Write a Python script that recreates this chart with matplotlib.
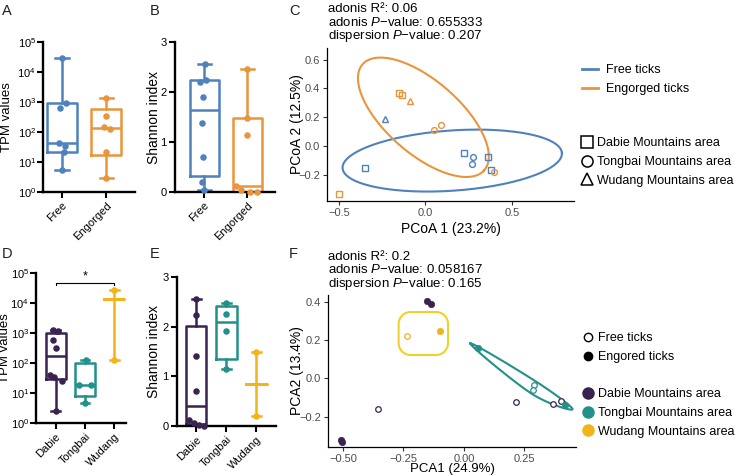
import numpy as np
import matplotlib.pyplot as plt
from matplotlib.lines import Line2D

plt.rcParams['font.family'] = ['Liberation Sans', 'DejaVu Sans']
plt.rcParams['mathtext.fontset'] = 'custom'
plt.rcParams['mathtext.rm'] = 'Liberation Sans'
plt.rcParams['mathtext.it'] = 'Liberation Sans:italic'

BLUE = '#4F81BD'
ORANGE = '#E9953B'
DABIE = '#3B2351'
TONGBAI = '#23908A'
WUDANG = '#F2B31B'
WUDANG_HULL = '#EFD12C'
INK = '#231F20'

# ---- data ----
state_cats = ['Free', 'Engorged']
area_cats = ['Dabie', 'Tongbai', 'Wudang']

# A: TPM by feeding state
free_tpm = [29500, 900, 620, 43, 34, 21, 5.6]
free_tpm_jit = [0.0, 0.08, -0.05, -0.06, 0.07, 0.05, 0.0]
eng_tpm = [1350, 340, 150, 130, 21, 2.9]
eng_tpm_jit = [0.0, 0.0, -0.06, 0.08, 0.0, 0.0]

# B: Shannon by feeding state
free_shannon = [2.57, 2.25, 2.21, 1.9, 1.38, 0.7, 0.2, 0.05]
free_shannon_jit = [0.02, 0.04, -0.1, -0.02, -0.04, -0.02, -0.04, 0.0]
eng_shannon = [2.45, 1.48, 1.15, 0.12, 0.05, 0.0, 0.0]
eng_shannon_jit = [0.0, 0.0, 0.0, -0.25, -0.14, 0.06, 0.24]

# D: TPM by area
dabie_tpm = [1300, 1150, 590, 310, 40, 35, 26, 2.5]
dabie_tpm_jit = [-0.1, 0.08, -0.1, 0.0, -0.2, -0.05, 0.2, 0.0]
tongbai_tpm = [125, 18.5, 18, 4.7]
tongbai_tpm_jit = [0.05, 0.2, -0.2, 0.0]
wudang_tpm = [27500, 125]
wudang_tpm_jit = [0.0, 0.0]

# E: Shannon by area
dabie_shannon = [2.56, 2.23, 1.4, 0.7, 0.12, 0.06, 0.03, 0.01]
dabie_shannon_jit = [0.0, 0.0, 0.0, 0.0, -0.24, -0.08, 0.09, 0.25]
tongbai_shannon = [2.48, 2.26, 1.91, 1.15]
tongbai_shannon_jit = [0.0, 0.0, 0.0, 0.0]
wudang_shannon = [1.5, 0.2]
wudang_shannon_jit = [0.0, 0.0]

# C: PCoA
free_pcoa_x = [-0.35, -0.235, 0.222, 0.277, 0.268, 0.364, 0.378]
free_pcoa_y = [-0.148, 0.19, -0.045, -0.074, -0.125, -0.078, -0.163]
free_pcoa_area = ['Dabie', 'Wudang', 'Dabie', 'Tongbai', 'Tongbai', 'Dabie', 'Dabie']
eng_pcoa_x = [-0.503, -0.156, -0.137, -0.088, 0.048, 0.09, 0.395]
eng_pcoa_y = [-0.33, 0.37, 0.354, 0.31, 0.112, 0.15, -0.177]
eng_pcoa_area = ['Dabie', 'Dabie', 'Dabie', 'Wudang', 'Tongbai', 'Tongbai', 'Tongbai']
# stat ellipses: centre, semi-axis u, semi-axis v
free_ellipse = [0.155, -0.10, 0.635, 0.053, -0.013, 0.208]
eng_ellipse = [-0.012, 0.20, 0.35, -0.37, 0.145, 0.185]
pcoa_stats = ['0.06', '0.655333', '0.207']

# F: PCA
pca_x = [-0.357, 0.215, 0.366, 0.40, -0.154, -0.138, -0.51, -0.505,
         0.29, 0.287, 0.056, 0.417, -0.237, -0.099]
pca_y = [-0.162, -0.125, -0.134, -0.117, 0.403, 0.386, -0.322, -0.33,
         -0.035, -0.061, 0.156, -0.139, 0.221, 0.247]
pca_area = ['Dabie'] * 8 + ['Tongbai'] * 4 + ['Wudang'] * 2
pca_state = ['Free'] * 4 + ['Engorged'] * 4 + ['Free', 'Free', 'Engorged', 'Engorged', 'Free', 'Engorged']
pca_stats = ['0.2', '0.058167', '0.165']

area_colors = {'Dabie': DABIE, 'Tongbai': TONGBAI, 'Wudang': WUDANG}
area_markers = {'Dabie': 's', 'Tongbai': 'o', 'Wudang': '^'}
area_labels = ['Dabie Mountains area', 'Tongbai Mountains area', 'Wudang Mountains area']

W, H = 738, 476
fig = plt.figure(figsize=(W / 100, H / 100), dpi=100)


def px_axes(l, t, r, b):
    return fig.add_axes([l / W, 1 - b / H, (r - l) / W, (b - t) / H])


def box_stats(vals):
    v = np.asarray(vals, float)
    med = np.median(v)
    if len(v) < 3:
        q1 = q3 = med
    else:
        q1, q3 = np.percentile(v, [25, 75], method='weibull')
    return dict(med=med, q1=q1, q3=q3, whislo=v.min(), whishi=v.max(), fliers=[])


def prism_boxes(ax, groups, jitters, colors):
    for i, (vals, jit, c) in enumerate(zip(groups, jitters, colors)):
        lp = dict(color=c, lw=1.8)
        ax.bxp([box_stats(vals)], positions=[i], widths=0.68, capwidths=0.3,
               showfliers=False, boxprops=lp, medianprops=lp, whiskerprops=lp,
               capprops=lp, manage_ticks=False)
        ax.scatter(i + np.asarray(jit), vals, s=22, color=c, lw=0, zorder=3, clip_on=False)


def prism_style(ax, cats, xlim, log, label_x):
    for s in ['top', 'right']:
        ax.spines[s].set_visible(False)
    for s in ['left', 'bottom']:
        ax.spines[s].set_linewidth(1.7)
        ax.spines[s].set_color('black')
    ax.set_xlim(*xlim)
    ax.set_xticks(range(len(cats)))
    ax.set_xticklabels(cats, rotation=45, ha='right', rotation_mode='anchor')
    ax.tick_params(width=1.5, length=4, labelsize=8, colors='black', pad=2)
    if log:
        ax.set_yscale('log')
        ax.set_ylim(1, 1e5)
        ax.set_yticks([10 ** k for k in range(6)])
        ax.set_yticklabels([f'$10^{{{k}}}$' for k in range(6)])
        ax.minorticks_off()
        ax.tick_params(axis='y', pad=1)
        ax.set_ylabel('TPM values', fontsize=9.5)
    else:
        ax.set_ylim(0, 3)
        ax.set_yticks([0, 1, 2, 3])
        ax.set_ylabel('Shannon index', fontsize=10)
    ax.yaxis.set_label_coords(label_x, 0.5)


def gg_style(ax):
    for s in ['top', 'right']:
        ax.spines[s].set_visible(False)
    for s in ['left', 'bottom']:
        ax.spines[s].set_linewidth(0.9)
    ax.tick_params(width=0.8, length=3, labelsize=8, colors='#333333', labelcolor='#4D4D4D', pad=2)


# ---- A ----
axA = px_axes(43, 42, 135, 192)
prism_boxes(axA, [free_tpm, eng_tpm], [free_tpm_jit, eng_tpm_jit], [BLUE, ORANGE])
prism_style(axA, state_cats, (-0.43, 1.65), True, -0.33)

# ---- B ----
axB = px_axes(175, 42, 275, 192)
prism_boxes(axB, [free_shannon, eng_shannon], [free_shannon_jit, eng_shannon_jit], [BLUE, ORANGE])
prism_style(axB, state_cats, (-0.68, 1.65), False, -0.14)

# ---- D ----
axD = px_axes(36, 273, 126, 423)
prism_boxes(axD, [dabie_tpm, tongbai_tpm, wudang_tpm],
            [dabie_tpm_jit, tongbai_tpm_jit, wudang_tpm_jit], [DABIE, TONGBAI, WUDANG])
prism_style(axD, area_cats, (-0.67, 2.4), True, -0.28)
axD.plot([0, 0, 2, 2], [3.9e4, 4.6e4, 4.6e4, 3.9e4], color='black', lw=0.8, clip_on=False)
axD.text(1, 4.9e4, '*', ha='center', va='bottom', fontsize=9)

# ---- E ----
axE = px_axes(177, 277, 276, 426)
prism_boxes(axE, [dabie_shannon, tongbai_shannon, wudang_shannon],
            [dabie_shannon_jit, tongbai_shannon_jit, wudang_shannon_jit], [DABIE, TONGBAI, WUDANG])
prism_style(axE, area_cats, (-0.64, 2.65), False, -0.16)


# ---- C ----
def ellipse_xy(p, n=200):
    t = np.linspace(0, 2 * np.pi, n)
    return (p[0] + p[2] * np.cos(t) + p[4] * np.sin(t),
            p[1] + p[3] * np.cos(t) + p[5] * np.sin(t))


axC = px_axes(327, 48, 574, 201)
gg_style(axC)
axC.plot(*ellipse_xy(free_ellipse), color=BLUE, lw=1.5)
axC.plot(*ellipse_xy(eng_ellipse), color=ORANGE, lw=1.5)
for xs, ys, areas, c in [(free_pcoa_x, free_pcoa_y, free_pcoa_area, BLUE),
                         (eng_pcoa_x, eng_pcoa_y, eng_pcoa_area, ORANGE)]:
    for x, y, a in zip(xs, ys, areas):
        axC.plot(x, y, area_markers[a], ms=4.2 if a != 'Wudang' else 5, mfc='none', mec=c, mew=1.0)
axC.set_xlim(-0.57, 0.86)
axC.set_ylim(-0.38, 0.68)
axC.set_xticks([-0.5, 0, 0.5])
axC.set_xticklabels(['\u22120.5', '0.0', '0.5'])
axC.set_yticks([-0.2, 0, 0.2, 0.4, 0.6])
axC.set_yticklabels(['\u22120.2', '0.0', '0.2', '0.4', '0.6'])
axC.set_xlabel('PCoA 1 (23.2%)', fontsize=10)
axC.set_ylabel('PCoA 2 (12.5%)', fontsize=10)
axC.xaxis.set_label_coords(0.5, -0.14)
axC.yaxis.set_label_coords(-0.093, 0.5)

legkw = dict(loc='upper left', bbox_transform=fig.transFigure, frameon=False, fontsize=9,
             labelspacing=0.55, borderpad=0, borderaxespad=0)
leg1 = axC.legend(handles=[Line2D([], [], color=BLUE, lw=2), Line2D([], [], color=ORANGE, lw=2)],
                  labels=['Free ticks', 'Engorged ticks'], bbox_to_anchor=(582 / W, 1 - 64 / H),
                  handlelength=1.3, handletextpad=0.6, **legkw)
axC.add_artist(leg1)
shape_handles = [Line2D([], [], ls='none', marker=m, ms=8, mfc='none', mec='black', mew=1.1)
                 for m in ['s', 'o', '^']]
axC.legend(handles=shape_handles, labels=area_labels, bbox_to_anchor=(582 / W, 1 - 137 / H),
           handlelength=0.8, handletextpad=0.4, **legkw)

# ---- F ----
axF = px_axes(328, 295, 576, 447)
gg_style(axF)
axF.set_xlim(-0.562, 0.463)
axF.set_ylim(-0.358, 0.435)
axF.set_xticks([-0.5, -0.25, 0, 0.25])
axF.set_xticklabels(['\u22120.50', '\u22120.25', '0.00', '0.25'])
axF.set_yticks([-0.2, 0, 0.2, 0.4])
axF.set_yticklabels(['\u22120.2', '0.0', '0.2', '0.4'])
axF.set_xlabel('PCA1 (24.9%)', fontsize=9.5)
axF.set_ylabel('PCA2 (13.4%)', fontsize=10)
axF.xaxis.set_label_coords(0.5, -0.186)
axF.xaxis.label.set_va('bottom')
axF.yaxis.set_label_coords(-0.097, 0.5)

px = np.asarray(pca_x)
py = np.asarray(pca_y)
areas = np.asarray(pca_area)


def convex_hull(p):
    p = sorted(map(tuple, p))

    def half(seq):
        h = []
        for q in seq:
            while len(h) >= 2 and ((h[-1][0] - h[-2][0]) * (q[1] - h[-2][1])
                                   - (h[-1][1] - h[-2][1]) * (q[0] - h[-2][0])) <= 0:
                h.pop()
            h.append(q)
        return h
    lo, up = half(p), half(p[::-1])
    return np.array(lo[:-1] + up[:-1])


def catmull_closed(P, n=40):
    k = len(P)
    out = []
    t = np.linspace(0, 1, n, endpoint=False)[:, None]
    for i in range(k):
        p0, p1, p2, p3 = P[i - 1], P[i], P[(i + 1) % k], P[(i + 2) % k]
        out.append(0.5 * (2 * p1 + (-p0 + p2) * t + (2 * p0 - 5 * p1 + 4 * p2 - p3) * t ** 2
                          + (-p0 + 3 * p1 - 3 * p2 + p3) * t ** 3))
    out = np.vstack(out)
    return np.vstack([out, out[:1]])


def hull_outline(ax, xs, ys, r=4):
    d = ax.transData.transform(np.column_stack([xs, ys]))
    hull = convex_hull(d)
    k = len(hull)
    grown = []
    for i in range(k):
        e1 = hull[i] - hull[i - 1]
        e2 = hull[(i + 1) % k] - hull[i]
        n1 = np.array([e1[1], -e1[0]]) / np.hypot(*e1)
        n2 = np.array([e2[1], -e2[0]]) / np.hypot(*e2)
        nv = n1 + n2
        size = np.hypot(*nv)
        push = min(r / (size / 2), 2.2 * r)
        grown.append(hull[i] + push * nv / size)
    curve = catmull_closed(np.array(grown))
    return ax.transData.inverted().transform(curve)


def round_box(ax, xs, ys, padx=8, pady=19, rad=12):
    d = ax.transData.transform(np.column_stack([xs, ys]))
    x0, y0 = d.min(axis=0) - [padx, pady]
    x1, y1 = d.max(axis=0) + [padx, pady]
    pts = []
    for cx, cy, a0 in [(x1 - rad, y1 - rad, 0), (x0 + rad, y1 - rad, 90),
                       (x0 + rad, y0 + rad, 180), (x1 - rad, y0 + rad, 270)]:
        a = np.radians(np.linspace(a0, a0 + 90, 20))
        pts.append(np.column_stack([cx + rad * np.cos(a), cy + rad * np.sin(a)]))
    pts = np.vstack(pts)
    pts = np.vstack([pts, pts[:1]])
    return ax.transData.inverted().transform(pts)


tb = areas == 'Tongbai'
hx = hull_outline(axF, px[tb], py[tb])
axF.plot(hx[:, 0], hx[:, 1], color=TONGBAI, lw=1.5)
wd = areas == 'Wudang'
bx = round_box(axF, px[wd], py[wd])
axF.plot(bx[:, 0], bx[:, 1], color=WUDANG_HULL, lw=1.5)

for x, y, a, s in zip(pca_x, pca_y, pca_area, pca_state):
    c = area_colors[a]
    if s == 'Free':
        axF.plot(x, y, 'o', ms=4, mfc='white', mec=c, mew=0.9, zorder=4)
    else:
        axF.plot(x, y, 'o', ms=4.6, mfc=c, mec=c, mew=0.5, zorder=4)

leg2 = axF.legend(handles=[Line2D([], [], ls='none', marker='o', ms=6, mfc='white', mec='black', mew=1),
                           Line2D([], [], ls='none', marker='o', ms=6, mfc='black', mec='black')],
                  labels=['Free ticks', 'Engored ticks'], bbox_to_anchor=(583 / W, 1 - 332 / H),
                  handlelength=0.8, handletextpad=0.4, **legkw)
axF.add_artist(leg2)
axF.legend(handles=[Line2D([], [], ls='none', marker='o', ms=8, mfc=c, mec=c)
                    for c in [DABIE, TONGBAI, WUDANG]],
           labels=area_labels, bbox_to_anchor=(583 / W, 1 - 388 / H),
           handlelength=0.8, handletextpad=0.4, **legkw)

# ---- annotations ----
for base, vals in [(0, pcoa_stats), (247, pca_stats)]:
    lines = [f'adonis R\u00b2: {vals[0]}',
             f'adonis $P$\u2212value: {vals[1]}',
             f'dispersion $P$\u2212value: {vals[2]}']
    for j, s in enumerate(lines):
        fig.text(328 / W, 1 - (base + 12.5 + 13.5 * j) / H, s, fontsize=9.5, va='baseline', color='black')

for lab, x, y in [('A', 2, 15), ('B', 150, 15), ('C', 289, 15),
                  ('D', 2, 258), ('E', 150, 258), ('F', 289, 258)]:
    fig.text(x / W, 1 - y / H, lab, fontsize=10.5, va='baseline', color=INK)

fig.savefig('out.png', dpi=100)
